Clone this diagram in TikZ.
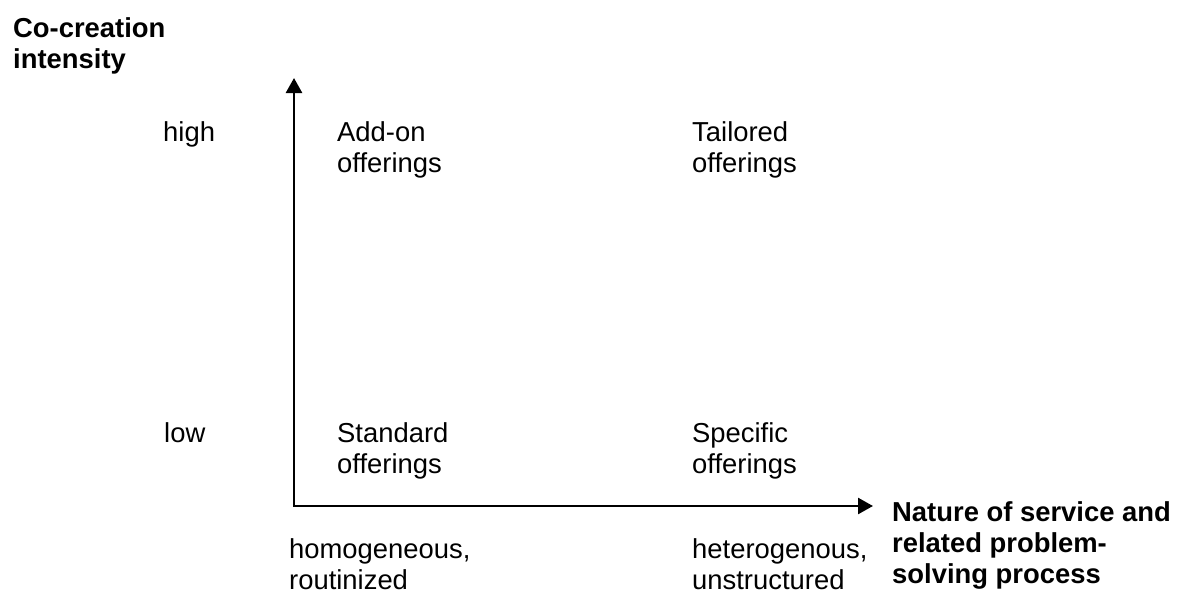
\documentclass[tikz,border=0pt]{standalone}
\usepackage{fontspec}
\setmainfont{Liberation Sans}
\usetikzlibrary{arrows.meta}

\begin{document}
\begin{tikzpicture}[
                    x=1pt, y=-1pt, % one unit per pixel of the page
                    every node/.style={font=\fontsize{27.4}{31}\selectfont, inner sep=0pt, anchor=base west, align=left},
                    title/.style={font=\fontsize{27.4}{31}\selectfont\bfseries},
                    axis/.style={line width=2.6pt, line cap=rect, -{Triangle[width=16pt,length=15pt]}}
                ]
                \useasboundingbox (0,0) rectangle (1183,602);

                \coordinate (origin) at (294,506);
                \coordinate (ytip) at (294,78);
                \coordinate (xtip) at (873,506);
                \draw[axis] (origin) -- (ytip);
                \draw[axis] (origin) -- (xtip);

                % base anchor sits on the last line
                \node[title] (yaxis) at (13,69) {Co-creation\\intensity};
                \node[title] (xaxis) at (892,583) {Nature of service and\\related problem-\\solving process};

                \node (high) at (163,141) {high};
                \node (low) at (164,442) {low};
                \node (addon) at (337,172) {Add-on\\offerings};
                \node (tailored) at (692,172) {Tailored\\offerings};
                \node (standard) at (337,473) {Standard\\offerings};
                \node (specific) at (692,473) {Specific\\offerings};
                \node (homog) at (289,589) {homogeneous,\\routinized};
                \node (heterog) at (692,589) {heterogenous,\\unstructured};
            \end{tikzpicture}
\end{document}
